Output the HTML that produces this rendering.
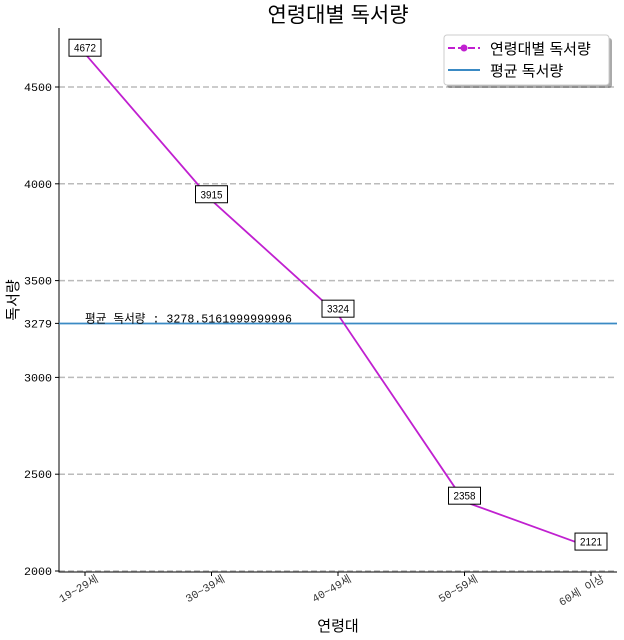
<!DOCTYPE html>
<html><head><meta charset="utf-8"><style>
body{margin:0;background:#fff}
svg{display:block;font-family:"Liberation Mono","Noto Sans CJK KR",monospace}
.k{font-family:"Liberation Sans","Noto Sans CJK KR",sans-serif}
</style></head><body>
<svg id="c" width="624" height="640"></svg>
<script>
const categories=["19~29세","30~39세","40~49세","50~59세","60세 이상"];
const values=[4672,3915,3324,2358,2121];
const meanValue=3278.5161999999996;
const yTicks=[2000,2500,3000,3500,4000,4500];
const NS="http://www.w3.org/2000/svg";
const svg=document.getElementById('c');
const L=59,R=617,T=28,B=572;
const x=i=>85+i*126.5;
const y=v=>571-(v-2000)*96.8/500;
function el(t,a,txt){const e=document.createElementNS(NS,t);for(const k in a)e.setAttribute(k,a[k]);if(txt!=null)e.textContent=txt;svg.appendChild(e);return e;}
yTicks.forEach(v=>{
 const g=el('line',{x1:L,x2:R,y1:y(v),y2:y(v),stroke:'#bbb','stroke-width':1.5,'stroke-dasharray':'6,3'});
 
 
});
const ax=el('path',{d:`M${L},${T}V${B}H${R}`,fill:'none',stroke:'#000','stroke-width':1});


[...yTicks,Math.round(meanValue)].forEach(v=>{
 el('line',{x1:L-4,x2:L,y1:y(v),y2:y(v),stroke:'#000'});
 const t=el('text',{x:L-7,y:y(v)+4,'text-anchor':'end','font-size':11,textLength:28,lengthAdjust:'spacingAndGlyphs'},String(v));
 
 
});
categories.forEach((c,i)=>{
 el('line',{x1:x(i),x2:x(i),y1:B,y2:B+4,stroke:'#000'});
 const px=x(i)+14,py=B+9;
 const t=el('text',{x:px,y:py,'text-anchor':'end','font-size':11,transform:`rotate(-30 ${px} ${py})`,fill:'#333'},c);
 
 
});
const ml=el('line',{x1:L,x2:R,y1:y(meanValue),y2:y(meanValue),stroke:'#3a8ac4','stroke-width':1.8});


const mt=el('text',{x:85,y:y(meanValue)-1,'font-size':12,textLength:207,lengthAdjust:'spacingAndGlyphs'},'평균 독서량 : '+meanValue);


const ln=el('polyline',{points:values.map((v,i)=>x(i)+','+y(v)).join(' '),fill:'none',stroke:'#c020d0','stroke-width':1.8});


values.forEach((v,i)=>{
 const s=String(v),w=s.length*6+8,cy=y(v)-6;
 const r=el('rect',{x:x(i)-w/2,y:cy-8.5,width:w,height:17,fill:'#fff',stroke:'#000','stroke-width':1});
 
 
 const t=el('text',{x:x(i),y:cy+4,'text-anchor':'middle','font-size':11,class:'k',textLength:s.length*5.5,lengthAdjust:'spacingAndGlyphs'},s);
 
 
});
const ti=el('text',{x:338,y:22,'text-anchor':'middle','font-size':21,class:'k'},'연령대별 독서량');


const xt=el('text',{x:338,y:631,'text-anchor':'middle','font-size':15,class:'k'},'연령대');


const yt=el('text',{x:18,y:300,'text-anchor':'middle','font-size':15,class:'k',transform:'rotate(-90 18 300)'},'독서량');


el('rect',{x:447,y:38,width:165,height:50,rx:3,fill:'#555',opacity:0.5});
const lg=el('rect',{x:444,y:35,width:165,height:50,rx:3,fill:'#fff',stroke:'#ccc'});


el('line',{x1:448,x2:480,y1:48,y2:48,stroke:'#c020d0','stroke-width':2,'stroke-dasharray':'7,3'});
el('circle',{cx:464,cy:48,r:3.5,fill:'#c020d0'});
const l1=el('text',{x:490,y:54,'font-size':15,class:'k'},'연령대별 독서량');


el('line',{x1:448,x2:480,y1:70,y2:70,stroke:'#3a8ac4','stroke-width':2});
const l2=el('text',{x:490,y:76,'font-size':15,class:'k'},'평균 독서량');


</script>
</body></html>
